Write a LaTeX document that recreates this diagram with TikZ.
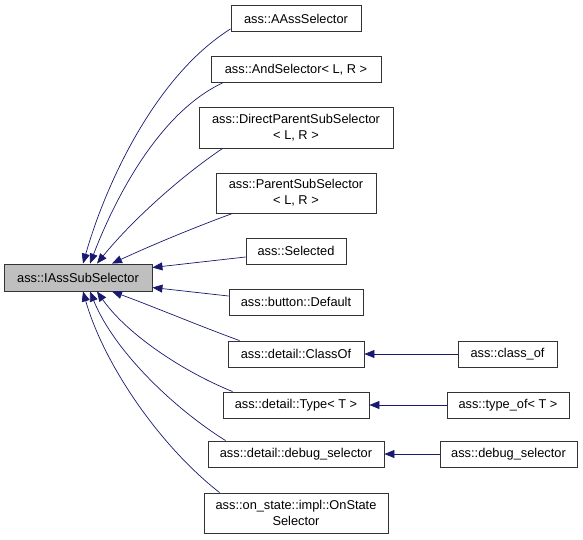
\documentclass[tikz,border=0pt]{standalone}
\usepackage{fontspec}
\setmainfont{Liberation Sans}
\usetikzlibrary{arrows.meta}
\definecolor{edgeblue}{RGB}{25,25,112}
\definecolor{rootgray}{RGB}{191,191,191}

\begin{document}
\begin{tikzpicture}[x=1pt,y=-1pt,
    cls/.style={draw=black!80,line width=0.9pt,shape=rectangle,inner sep=0pt,
      minimum height=26pt,align=center,font=\fontsize{12.8}{16}\selectfont},
    cls2/.style={cls,minimum height=41pt},
    edge/.style={draw=edgeblue,line width=0.7pt,{Triangle[length=10pt,width=8pt]}-}]
   \useasboundingbox (0,0) rectangle (583,539);

   \path (78,277.5) node[cls,fill=rootgray,minimum width=148pt,minimum height=27pt] (IASS) {ass::IAssSubSelector};

   \path (296,18.5) node[cls,minimum width=130pt] (AASS) {ass::AAssSelector};
   \path (296,69.5) node[cls,minimum width=170pt] (AND) {ass::AndSelector< L, R >};
   \path (296,127.5) node[cls2,minimum width=194pt] (DPS) {ass::DirectParentSubSelector\\< L, R >};
   \path (296,193) node[cls2,minimum width=160pt,minimum height=40pt] (PSS) {ass::ParentSubSelector\\< L, R >};
   \path (296,251) node[cls,minimum width=100pt] (SEL) {ass::Selected};
   \path (296,302) node[cls,minimum width=134pt] (DEF) {ass::button::Default};
   \path (296,354) node[cls,minimum width=136pt] (CLS) {ass::detail::ClassOf};
   \path (296,405) node[cls,minimum width=146pt] (TYP) {ass::detail::Type< T >};
   \path (296,454) node[cls,minimum width=176pt] (DBG) {ass::detail::debug\_selector};
   \path (296,513) node[cls2,minimum width=184pt,minimum height=40pt] (ONS) {ass::on\_state::impl::OnState\\Selector};

   \path (507.5,354) node[cls,minimum width=99pt] (CLSof) {ass::class\_of};
   \path (508,405) node[cls,minimum width=122pt] (TYPof) {ass::type\_of< T >};
   \path (508.5,454) node[cls,minimum width=137pt] (DBGsel) {ass::debug\_selector};

   % edges into the base class
   \draw[edge] ([xshift=5pt]IASS.north) to[out=74,in=212,looseness=0.8] ([yshift=3pt]AASS.south west);
   \draw[edge] ([xshift=12pt]IASS.north) to[out=69,in=205,looseness=0.8] ([xshift=12pt]AND.south west);
   \draw[edge] ([xshift=19pt]IASS.north) to[out=51,in=214,looseness=0.8] ([xshift=24pt]DPS.south west);
   \draw[edge] ([xshift=34pt]IASS.north) to[out=25,in=200,looseness=0.8] ([xshift=17pt]PSS.south west);
   \draw[edge] ([yshift=10pt]IASS.east) -- ([yshift=-6pt]SEL.west);
   \draw[edge] ([yshift=-10pt]IASS.east) -- ([yshift=6pt]DEF.west);
   \draw[edge] ([xshift=34pt]IASS.south) to[out=-20,in=160,looseness=0.8] ([xshift=12pt]CLS.north west);
   \draw[edge] ([xshift=19pt]IASS.south) to[out=-55,in=158,looseness=0.8] ([xshift=10pt]TYP.north west);
   \draw[edge] ([xshift=12pt]IASS.south) to[out=-68,in=148,looseness=0.8] ([xshift=18pt]DBG.north west);
   \draw[edge] ([xshift=5pt]IASS.south) to[out=-74,in=142,looseness=0.8] ([xshift=16pt]ONS.north west);

   % second level
   \draw[edge] (CLS) -- (CLSof);
   \draw[edge] (TYP) -- (TYPof);
   \draw[edge] (DBG) -- (DBGsel);
\end{tikzpicture}
\end{document}
